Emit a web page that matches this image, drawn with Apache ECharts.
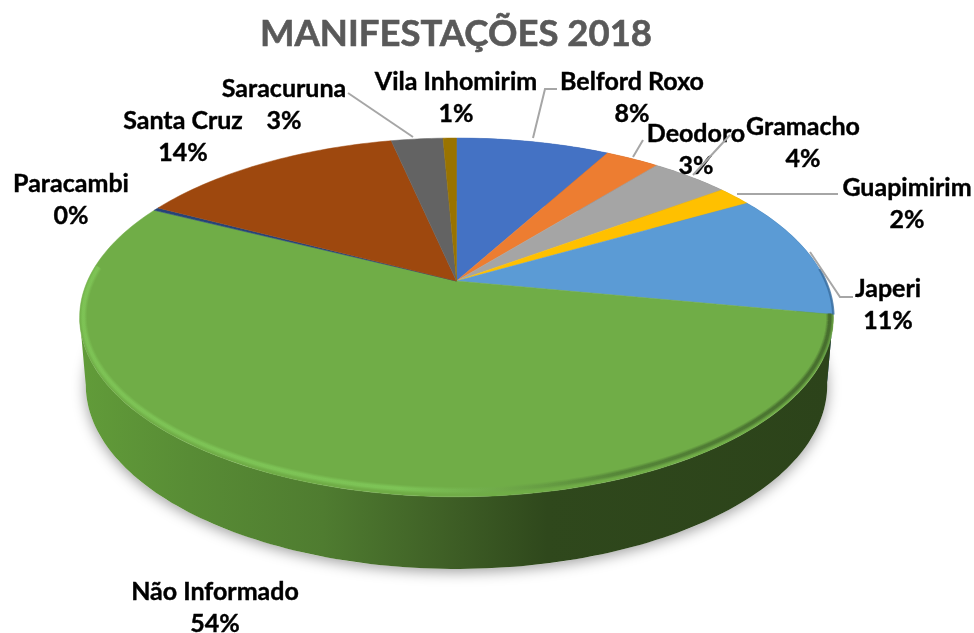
<!DOCTYPE html>
<html>
<head>
<meta charset="utf-8">
<title>Manifestações 2018</title>
<script src="https://cdn.jsdelivr.net/npm/echarts@6/dist/echarts.min.js"></script>
<style>
  html, body { margin: 0; padding: 0; background: #fff; }
  #chart { width: 974px; height: 633px; }
</style>
</head>
<body>
<div id="chart"></div>
<script>
// dados (% de cada local)
var locais = ["Belford Roxo", "Deodoro", "Gramacho", "Guapimirim", "Japeri", "Não Informado", "Paracambi", "Santa Cruz", "Saracuruna", "Vila Inhomirim"];
var valores = [8.0, 2.8, 4.1, 1.8, 11.3, 54.4, 0.3, 13.9, 2.7, 0.7];

// estilo
var cores = ["#4472c4", "#ed7d31", "#a5a5a5", "#ffc000", "#5b9bd5", "#70ad47", "#264478", "#9e480e", "#636363", "#997300"];
var coresLateral = ["#2f4f88", "#a55720", "#737373", "#b28600", "#2f5f8c", null, "#1a2f53", "#6e3209", "#454545", "#6b5000"];

// posição dos rótulos (centro do texto)
var posRotulos = [[632, 98], [696, 150], [803, 143], [907, 204], [888, 305], [215, 608], [71, 200], [183, 137], [284, 105], [456, 98]];
// linhas de chamada
var linhasChamada = [
  [[557, 89], [545, 89], [533, 138]],
  [[643, 140], [633, 157]],
  [[730, 135], [693, 175]],
  [[838, 194], [737, 194]],
  [[853, 297], [840, 297], [810, 252]],
  null,
  null,
  null,
  [[348, 93], [413, 137]],
  null
];

// perspectiva do disco: topo, linha do brilho e base
var topo = { cx: 456.5, cy: 281, a: 369, b: 172, k: 0.203 };
var brilho = { cx: 456.5, cy: 281, a: 365.5, b: 167, k: 0.203 };
var base = { cx: 456.5, cy: 347.6, a: 363, b: 176.4, k: 0.203 };
// ângulo do ponto mais largo à esquerda: a lateral termina nele
var angSilhueta = 2 * Math.PI - Math.acos(-topo.k);

var total = valores.reduce(function (s, v) { return s + v; }, 0);
var inicios = [];
valores.reduce(function (s, v, i) { inicios[i] = s; return s + v; }, 0);

function ponto(d, ang) {
  var u = Math.sin(ang), v = -Math.cos(ang);
  var w = 1 - d.k * v;
  return [d.cx + d.a * u / w, d.cy + d.b * v / w];
}

function arco(d, a0, a1) {
  var n = Math.max(2, Math.ceil(Math.abs(a1 - a0) / 0.02));
  var pts = [];
  for (var i = 0; i <= n; i++) pts.push(ponto(d, a0 + (a1 - a0) * i / n));
  return pts;
}

function angulos(api, i) {
  var a0 = inicios[i] / total * Math.PI * 2;
  return [a0, a0 + api.value(1) / total * Math.PI * 2];
}

var gradLateral = new echarts.graphic.LinearGradient(85, 0, 830, 0, [
  { offset: 0, color: "#619b39" },
  { offset: 0.14, color: "#588c35" },
  { offset: 0.32, color: "#4f7c30" },
  { offset: 0.48, color: "#3f6026" },
  { offset: 0.62, color: "#2f481c" },
  { offset: 1, color: "#2c431a" }
], true);

// claro à esquerda, escurece para a direita, onde a borda some na sombra
var gradBorda = new echarts.graphic.LinearGradient(85, 0, 830, 0, [
  { offset: 0, color: "#80c758" },
  { offset: 0.42, color: "#80c95a" },
  { offset: 0.56, color: "#6fa949" },
  { offset: 0.72, color: "#4f7c35" },
  { offset: 1, color: "#3d5f28" }
], true);

var tabela = locais.map(function (n, i) { return [n, valores[i]]; });

var option = {
  backgroundColor: "#ffffff",
  animation: false,
  title: {
    text: "MANIFESTAÇÕES 2018",
    left: 255,
    top: 11,
    textStyle: { color: "#595959", fontFamily: "Lato", fontWeight: "bold", fontSize: 36.5, textBorderColor: "#595959", textBorderWidth: 0.6 }
  },
  series: [
    {
      // sombra sob o disco
      type: "custom",
      coordinateSystem: "none",
      silent: true,
      z: 1,
      data: [[0]],
      renderItem: function () {
        return {
          type: "polygon",
          shape: { points: arco(base, 0, Math.PI * 2) },
          style: { fill: "#ffffff", shadowBlur: 14, shadowColor: "rgba(0,0,0,0.38)", shadowOffsetY: 3 }
        };
      }
    },
    {
      // lateral
      type: "custom",
      coordinateSystem: "none",
      silent: true,
      z: 2,
      data: tabela,
      renderItem: function (params, api) {
        var i = params.dataIndex, ang = angulos(api, i);
        var fim = Math.min(ang[1], angSilhueta);
        if (fim <= ang[0]) return null;
        return {
          type: "polygon",
          shape: { points: arco(topo, ang[0], fim).concat(arco(base, fim, ang[0])) },
          style: { fill: coresLateral[i] || gradLateral }
        };
      }
    },
    {
      // face de cima
      type: "custom",
      coordinateSystem: "none",
      silent: true,
      z: 3,
      data: tabela,
      renderItem: function (params, api) {
        var i = params.dataIndex, ang = angulos(api, i);
        var pts = [[topo.cx, topo.cy]].concat(arco(topo, ang[0], ang[1]));
        return {
          type: "polygon",
          shape: { points: pts },
          style: { fill: cores[i], stroke: cores[i], lineWidth: 0.5 }
        };
      }
    },
    {
      // brilho na borda da fatia da frente
      type: "custom",
      coordinateSystem: "none",
      silent: true,
      z: 4,
      data: tabela,
      renderItem: function (params, api) {
        var i = params.dataIndex, ang = angulos(api, i);
        if (i === 4) {
          return {
            type: "polyline",
            shape: { points: arco(topo, ang[0] + 0.45, ang[1]) },
            style: { fill: null, stroke: "#3a6ea0", lineWidth: 2.5, opacity: 0.8 }
          };
        }
        if (i !== 5) return null;
        var pts = arco(brilho, ang[0], ang[1] - 0.38);
        return {
          type: "group",
          children: [
            { type: "polyline", shape: { points: pts }, style: { fill: null, stroke: gradBorda, lineWidth: 7, opacity: 0.25 } },
            { type: "polyline", shape: { points: pts }, style: { fill: null, stroke: gradBorda, lineWidth: 5, opacity: 0.35 } },
            { type: "polyline", shape: { points: pts }, style: { fill: null, stroke: gradBorda, lineWidth: 3, opacity: 0.6 } }
          ]
        };
      }
    },
    {
      // rótulos e linhas de chamada
      type: "custom",
      coordinateSystem: "none",
      silent: true,
      z: 5,
      data: tabela,
      renderItem: function (params, api) {
        var i = params.dataIndex;
        var filhos = [];
        if (linhasChamada[i]) {
          filhos.push({
            type: "polyline",
            shape: { points: linhasChamada[i] },
            style: { fill: null, stroke: "#a6a6a6", lineWidth: 2 }
          });
        }
        filhos.push({
          type: "text",
          x: posRotulos[i][0],
          y: posRotulos[i][1],
          style: {
            text: api.value(0) + "\n" + Math.round(api.value(1)) + "%",
            fontFamily: "Lato",
            fontWeight: "bold",
            fontSize: 25,
            lineHeight: 32,
            fill: "#000000",
            stroke: "#000000",
            lineWidth: 0.4,
            align: "center",
            verticalAlign: "middle"
          }
        });
        return { type: "group", children: filhos };
      }
    }
  ]
};

var myChart = echarts.init(document.getElementById("chart"));
myChart.setOption(option);
</script>
</body>
</html>
